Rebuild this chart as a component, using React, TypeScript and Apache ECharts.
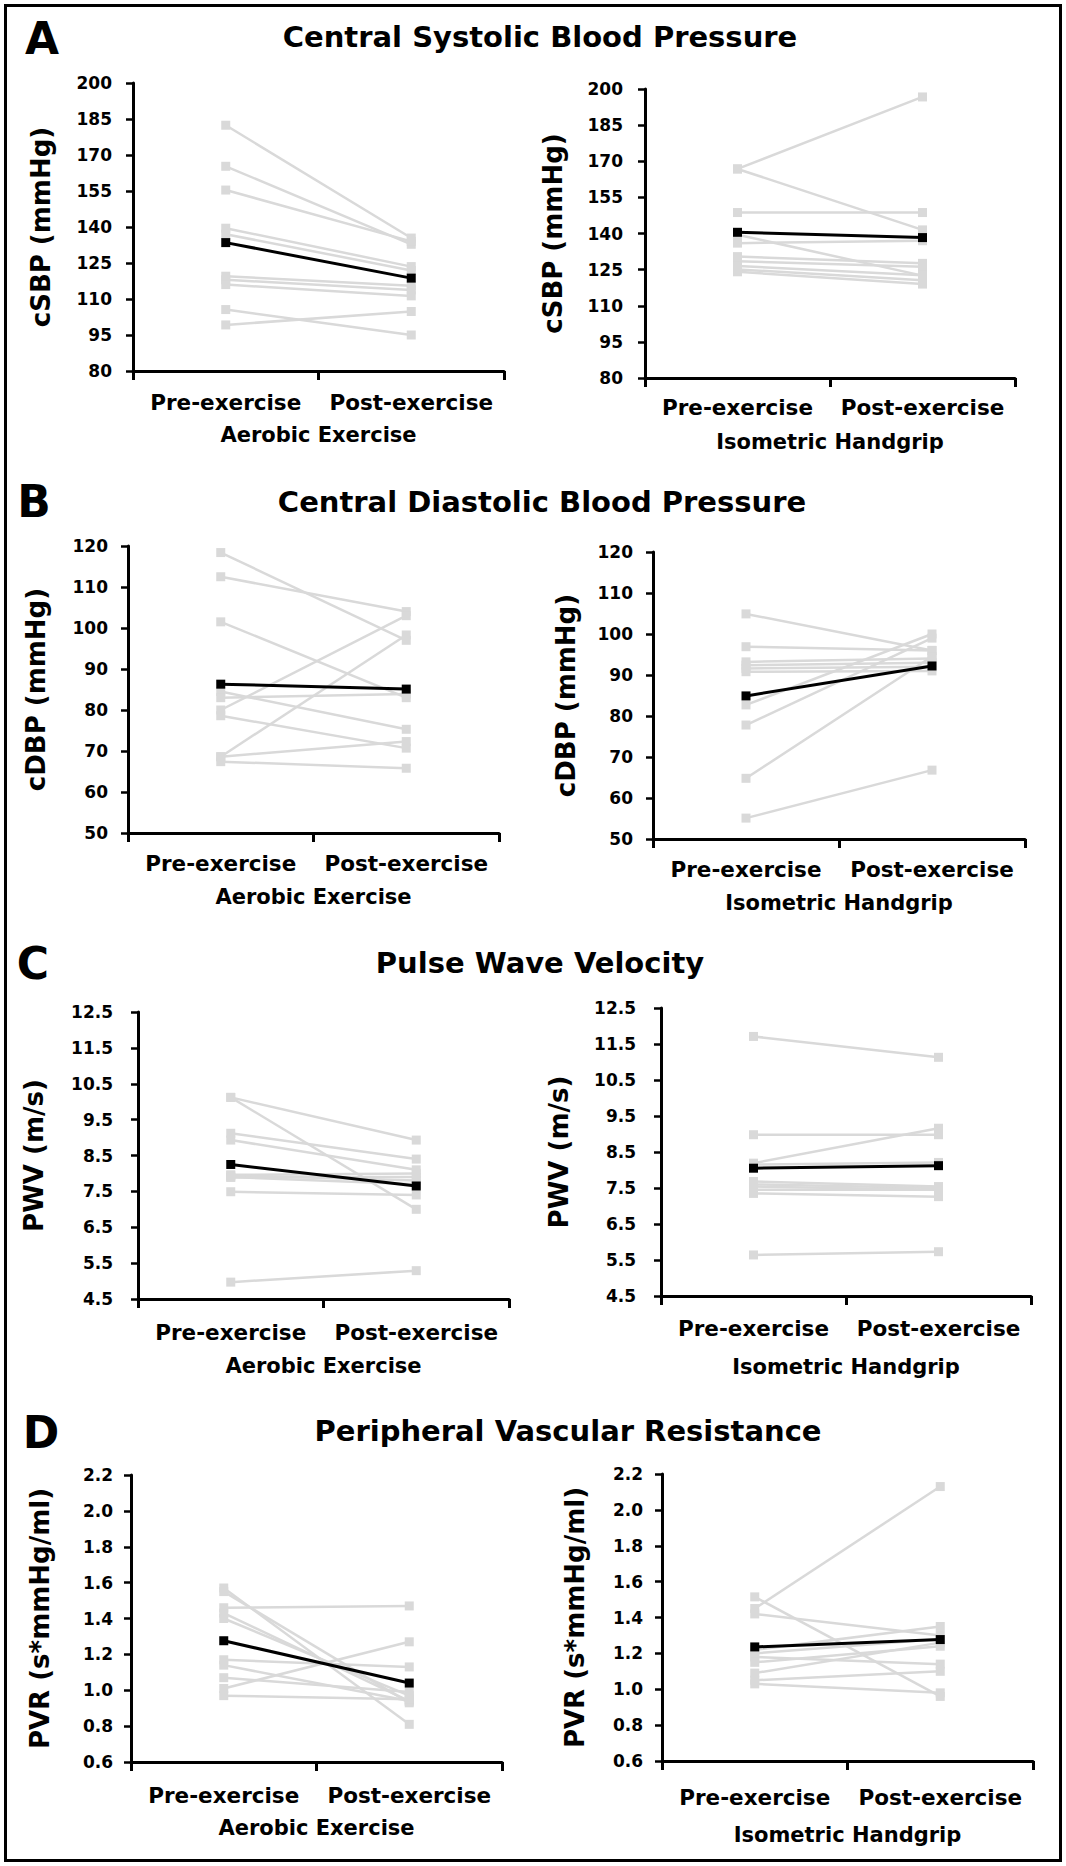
import React, { useEffect, useRef } from "react";
import * as echarts from "echarts";

// ---------- data ----------
const categories = ["Pre-exercise", "Post-exercise"];
const groupNames = ["Aerobic Exercise", "Isometric Handgrip"];
const panelTitles = [
  "Central Systolic Blood Pressure",
  "Central Diastolic Blood Pressure",
  "Pulse Wave Velocity",
  "Peripheral Vascular Resistance",
];
const panelLetters = ["A", "B", "C", "D"];
const yNames = ["cSBP (mmHg)", "cDBP (mmHg)", "PWV (m/s)", "PVR (s*mmHg/ml)"];

// axis ranges: [min, max, step, decimals]
const sbpAxis = [80, 200, 15, 0];
const dbpAxis = [50, 120, 10, 0];
const pwvAxis = [4.5, 12.5, 1, 1];
const pvrAxis = [0.6, 2.2, 0.2, 1];

const sbpAerobicPre = [182.4, 165.3, 155.4, 139.5, 137.0, 119.5, 118.0, 116.0, 105.6, 99.2];
const sbpAerobicPost = [135.4, 132.8, 134.0, 123.5, 121.9, 115.5, 113.8, 111.3, 95.0, 104.8];
const sbpAerobicMean = [133.5, 118.7];

const sbpHandgripPre = [166.8, 166.8, 148.7, 139.5, 136.0, 130.4, 128.5, 126.5, 125.1, 124.1];
const sbpHandgripPost = [196.7, 141.5, 148.7, 122.5, 137.0, 127.6, 126.2, 122.7, 120.6, 119.0];
const sbpHandgripMean = [140.5, 138.3];

const dbpAerobicPre = [118.4, 112.5, 101.5, 84.5, 83.0, 80.0, 78.6, 68.6, 68.6, 67.4];
const dbpAerobicPost = [97.0, 104.0, 83.0, 75.3, 83.9, 103.0, 70.7, 98.3, 72.3, 65.8];
const dbpAerobicMean = [86.3, 85.1];

const dbpHandgripPre = [104.9, 96.9, 93.2, 92.4, 91.6, 90.8, 82.7, 77.8, 64.8, 55.1];
const dbpHandgripPost = [96.0, 96.0, 94.0, 93.0, 92.0, 91.0, 100.0, 99.0, 94.5, 66.8];
const dbpHandgripMean = [84.9, 92.2];

const pwvAerobicPre = [10.12, 10.12, 9.12, 8.93, 7.96, 7.95, 7.9, 7.89, 7.49, 4.97];
const pwvAerobicPost = [8.93, 7.0, 8.4, 8.1, 8.0, 7.8, 7.7, 7.9, 7.4, 5.29];
const pwvAerobicMean = [8.25, 7.65];

const pwvHandgripPre = [11.71, 8.98, 8.19, 8.15, 7.68, 7.6, 7.54, 7.45, 7.35, 5.64];
const pwvHandgripPost = [11.13, 8.98, 9.16, 8.21, 7.54, 7.5, 7.45, 7.45, 7.26, 5.73];
const pwvHandgripMean = [8.05, 8.12];

const pvrAerobicPre = [1.57, 1.55, 1.46, 1.43, 1.4, 1.17, 1.14, 1.07, 1.01, 0.97];
const pvrAerobicPost = [0.81, 0.93, 1.47, 0.94, 0.97, 1.13, 0.94, 0.99, 1.27, 0.95];
const pvrAerobicMean = [1.276, 1.04];

const pvrHandgripPre = [1.45, 1.515, 1.42, 1.22, 1.18, 1.15, 1.09, 1.05, 1.03, 1.2];
const pvrHandgripPost = [2.13, 0.96, 1.3, 1.35, 1.14, 1.24, 1.26, 1.1, 0.98, 1.28];
const pvrHandgripMean = [1.236, 1.277];

// ---------- layout ----------
const FONT = "DejaVu Sans";
const GREY = "#d9d9d9";

const panels = [
  { row: 0, col: 0, axis: sbpAxis, pre: sbpAerobicPre, post: sbpAerobicPost, mean: sbpAerobicMean,
    grid: [133, 83, 371, 288], lblMargin: 21, yGap: 79, catMargin: 20, xGap: 53 },
  { row: 0, col: 1, axis: sbpAxis, pre: sbpHandgripPre, post: sbpHandgripPost, mean: sbpHandgripMean,
    grid: [645, 89, 370, 289], lblMargin: 22, yGap: 79, catMargin: 18, xGap: 53 },
  { row: 1, col: 0, axis: dbpAxis, pre: dbpAerobicPre, post: dbpAerobicPost, mean: dbpAerobicMean,
    grid: [128, 546, 371, 287], lblMargin: 20, yGap: 79, catMargin: 19, xGap: 53 },
  { row: 1, col: 1, axis: dbpAxis, pre: dbpHandgripPre, post: dbpHandgripPost, mean: dbpHandgripMean,
    grid: [653, 552, 372, 287], lblMargin: 20, yGap: 74, catMargin: 19, xGap: 53 },
  { row: 2, col: 0, axis: pwvAxis, pre: pwvAerobicPre, post: pwvAerobicPost, mean: pwvAerobicMean,
    grid: [138, 1012, 371, 287], lblMargin: 25, yGap: 91, catMargin: 22, xGap: 56 },
  { row: 2, col: 1, axis: pwvAxis, pre: pwvHandgripPre, post: pwvHandgripPost, mean: pwvHandgripMean,
    grid: [661, 1008, 370, 288], lblMargin: 25, yGap: 89, catMargin: 21, xGap: 60 },
  { row: 3, col: 0, axis: pvrAxis, pre: pvrAerobicPre, post: pvrAerobicPost, mean: pvrAerobicMean,
    grid: [131, 1475, 371, 287], lblMargin: 18, yGap: 78, catMargin: 22, xGap: 55 },
  { row: 3, col: 1, axis: pvrAxis, pre: pvrHandgripPre, post: pvrHandgripPost, mean: pvrHandgripMean,
    grid: [662, 1474, 371, 287], lblMargin: 19, yGap: 74, catMargin: 25, xGap: 63 },
];

const titlePos = [
  [540, 37],
  [542, 502],
  [540, 963],
  [568, 1431],
];
const letterPos = [
  [42, 38],
  [34, 501],
  [33, 963],
  [41, 1432],
];

function buildOption() {
  const grid: any[] = [];
  const xAxis: any[] = [];
  const yAxis: any[] = [];
  const series: any[] = [];

  panels.forEach((p, i) => {
    const [min, max, step, dec] = p.axis;
    const off = min; // axis offset so that tick counting starts at a multiple of step
    const [l, t, w, h] = p.grid;
    grid.push({ left: l, top: t, width: w, height: h, containLabel: false, outerBoundsMode: "none" });
    xAxis.push({
      type: "category",
      gridIndex: i,
      data: categories,
      boundaryGap: true,
      name: groupNames[p.col],
      nameLocation: "middle",
      nameGap: p.xGap,
      nameTextStyle: { fontFamily: FONT, fontWeight: "bold", fontSize: 21, color: "#000" },
      axisLine: { show: true, onZero: false, lineStyle: { color: "#000", width: 3 } },
      axisTick: { show: true, alignWithLabel: false, inside: false, length: 9, lineStyle: { color: "#000", width: 3 } },
      axisLabel: { interval: 0, margin: p.catMargin, fontFamily: FONT, fontWeight: "bold", fontSize: 21.5, color: "#000" },
      splitLine: { show: false },
    });
    yAxis.push({
      type: "value",
      gridIndex: i,
      min: 0,
      max: Math.round((max - min) / step) * step,
      interval: step,
      name: yNames[p.row],
      nameLocation: "middle",
      nameGap: p.yGap,
      nameTextStyle: { fontFamily: FONT, fontWeight: "bold", fontSize: 26, color: "#000" },
      axisLine: { show: true, onZero: false, lineStyle: { color: "#000", width: 3 } },
      axisTick: { show: true, inside: false, length: 7, lineStyle: { color: "#000", width: 2.5 } },
      axisLabel: {
        margin: p.lblMargin,
        fontFamily: FONT,
        fontWeight: "bold",
        fontSize: 17,
        color: "#000",
        formatter: (v: number) => (v + off).toFixed(dec),
      },
      splitLine: { show: false },
    });
    p.pre.forEach((v, k) => {
      series.push({
        type: "line",
        name: "subject " + (k + 1),
        xAxisIndex: i,
        yAxisIndex: i,
        data: [v - off, p.post[k] - off],
        symbol: "rect",
        symbolSize: 9,
        showSymbol: true,
        lineStyle: { color: GREY, width: 2.5 },
        itemStyle: { color: GREY },
        z: 2,
        silent: true,
      });
    });
    series.push({
      type: "line",
      name: "mean",
      xAxisIndex: i,
      yAxisIndex: i,
      data: [p.mean[0] - off, p.mean[1] - off],
      symbol: "rect",
      symbolSize: 9,
      lineStyle: { color: "#000", width: 3 },
      itemStyle: { color: "#000" },
      z: 3,
      silent: true,
    });
  });

  const graphic: any[] = [
    {
      type: "rect",
      shape: { x: 5.5, y: 5.5, width: 1055, height: 1855 },
      style: { fill: "none", stroke: "#000", lineWidth: 3 },
      silent: true,
    },
  ];
  panelTitles.forEach((t, i) => {
    graphic.push({
      type: "text",
      x: titlePos[i][0],
      y: titlePos[i][1],
      style: {
        text: t,
        fill: "#000",
        font: `bold 29px "${FONT}"`,
        align: "center",
        verticalAlign: "middle",
        textAlign: "center",
        textVerticalAlign: "middle",
      },
    });
    graphic.push({
      type: "text",
      x: letterPos[i][0],
      y: letterPos[i][1],
      style: {
        text: panelLetters[i],
        fill: "#000",
        font: `bold 44px "${FONT}"`,
        align: "center",
        verticalAlign: "middle",
        textAlign: "center",
        textVerticalAlign: "middle",
      },
    });
  });

  return {
    animation: false,
    backgroundColor: "#fff",
    grid,
    xAxis,
    yAxis,
    series,
    graphic,
  };
}

export default function App() {
  const ref = useRef<HTMLDivElement>(null);
  useEffect(() => {
    document.body.style.margin = "0";
    const chart = echarts.init(ref.current!, undefined, { renderer: "svg" });
    chart.setOption(buildOption() as any);
    return () => chart.dispose();
  }, []);
  return <div ref={ref} style={{ width: 1066, height: 1866 }} />;
}
